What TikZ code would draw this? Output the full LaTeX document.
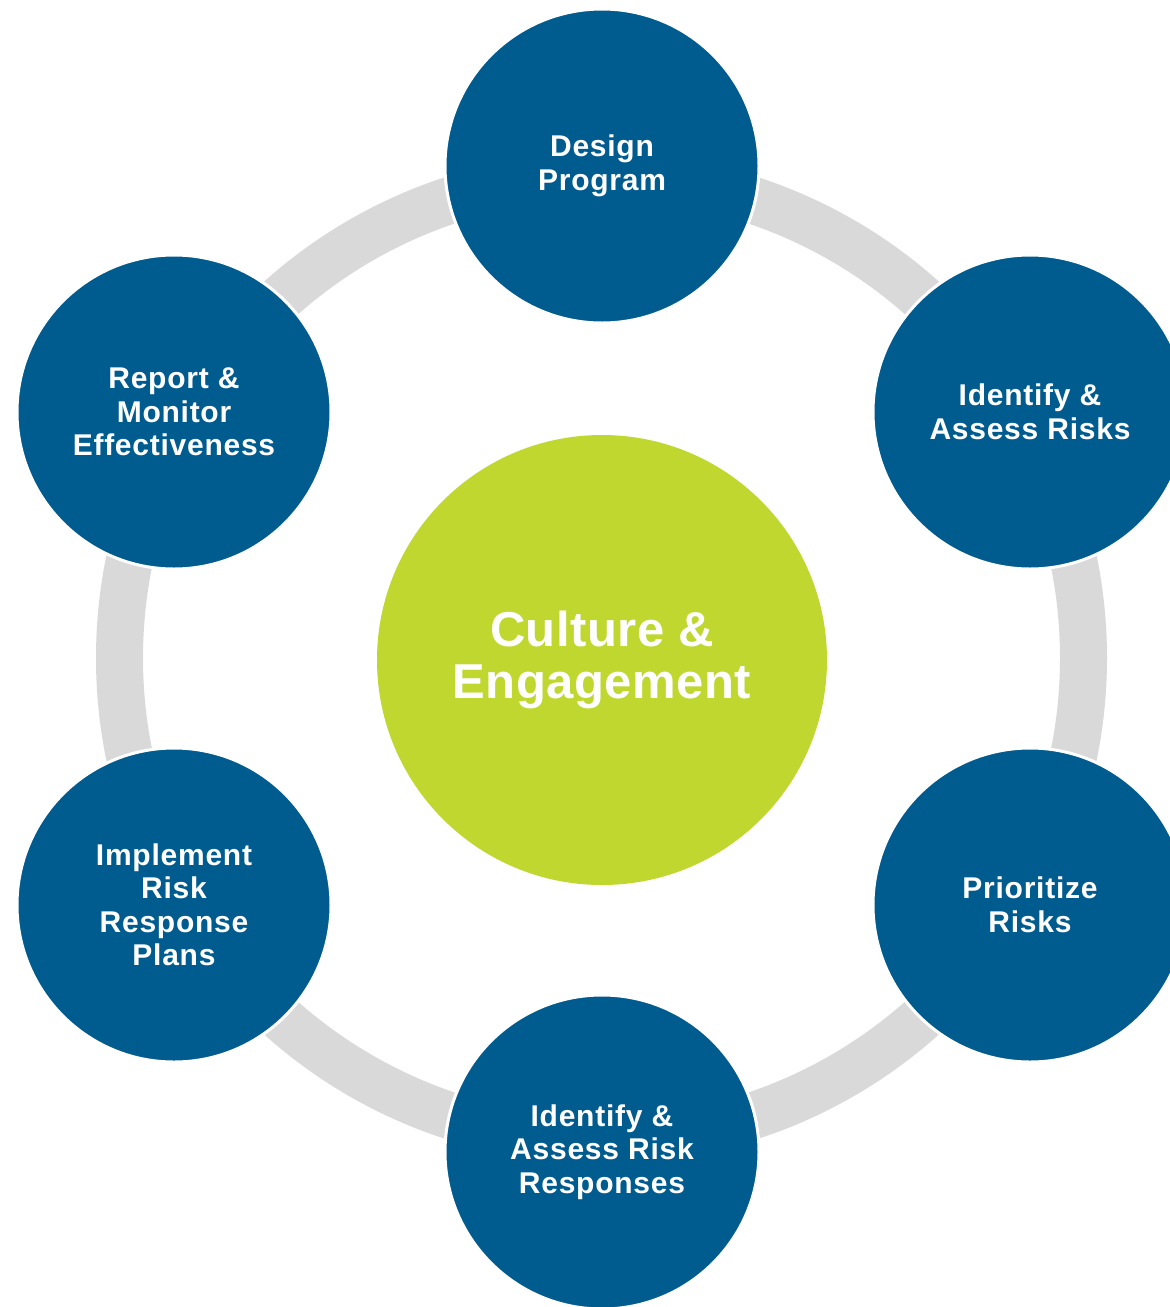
\documentclass[tikz,border=0pt]{standalone}
\usepackage{fontspec}
\setmainfont{Liberation Sans}
\newfontfamily\stagefont{Liberation Sans}[LetterSpace=2.5]
\newfontfamily\corefont{Liberation Sans}[LetterSpace=1]
\definecolor{stageblue}{HTML}{005B8F}
\definecolor{corelime}{HTML}{C0D730}
\definecolor{ringgray}{HTML}{D9D9D9}
\begin{document}
\begin{tikzpicture}[x=1pt,y=-1pt,
  stage/.style={circle, fill=stageblue, draw=white, line width=3pt,
    minimum size=314pt, inner sep=0pt, text=white, align=center,
    font=\stagefont\bfseries\fontsize{30}{33.5}\selectfont},
  core/.style={circle, fill=corelime, minimum size=450pt, inner sep=0pt,
    text=white, align=center, font=\corefont\bfseries\fontsize{49}{52.5}\selectfont},
  ring/.style={draw=ringgray, line width=47pt}]
  \useasboundingbox (0,0) rectangle (1170,1307);
  \clip (0,0) rectangle (1170,1307);
  \fill[white] (0,0) rectangle (1170,1307);

  % gray cycle ring behind the stages
  \coordinate (hub) at (601.5,658);
  \draw[ring] (hub) circle (482);

  % central theme
  \node[core] (culture) at (602,660) {Culture \&\\Engagement};

  % six stages around the cycle
  \node[stage] (design)    at (602,166)  {Design\\Program};
  \node[stage] (identify)  at (1030,412) {Identify \&\\Assess Risks};
  \node[stage] (prioritize)at (1030,905) {Prioritize\\Risks};
  \node[stage] (responses) at (602,1152) {Identify \&\\Assess Risk\\Responses};
  \node[stage] (implement) at (174,905)  {Implement\\Risk\\Response\\Plans};
  \node[stage] (report)    at (174,412)  {Report \&\\Monitor\\Effectiveness};
\end{tikzpicture}
\end{document}
